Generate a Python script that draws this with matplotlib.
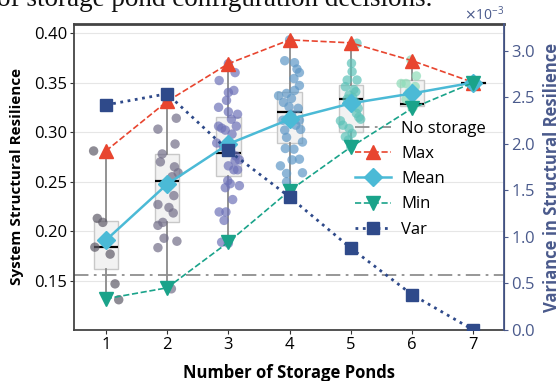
import matplotlib
matplotlib.use("Agg")
import matplotlib.pyplot as plt
from matplotlib.lines import Line2D
from matplotlib.ticker import ScalarFormatter

plt.rcParams['font.family'] = ['Open Sans', 'DejaVu Sans']

# ---------------- data ----------------
ponds = [1, 2, 3, 4, 5, 6, 7]

max_vals = [0.281, 0.331, 0.369, 0.393, 0.390, 0.372, 0.350]
mean_vals = [0.191, 0.2475, 0.288, 0.313, 0.329, 0.339, 0.350]
min_vals = [0.132, 0.143, 0.189, 0.241, 0.285, 0.324, 0.350]
var_vals = [2.42e-3, 2.54e-3, 1.93e-3, 1.43e-3, 0.88e-3, 0.38e-3, 0.0]

q1_vals = [0.162, 0.209, 0.256, 0.289, 0.300, 0.326, 0.350]
med_vals = [0.184, 0.2505, 0.279, 0.320, 0.3333, 0.328, 0.350]
q3_vals = [0.210, 0.278, 0.315, 0.340, 0.3475, 0.353, 0.350]

no_storage = 0.156

# individual scenario results (value, horizontal jitter)
g1_vals = [0.281, 0.213, 0.209, 0.184, 0.177, 0.147, 0.131]
g1_jit = [-0.20, -0.14, -0.05, -0.18, 0.07, 0.15, 0.21]

g2_vals = [0.331, 0.314, 0.303, 0.288, 0.278, 0.270, 0.265, 0.259, 0.255, 0.236,
           0.227, 0.224, 0.2185, 0.209, 0.206, 0.193, 0.190, 0.1835, 0.142]
g2_jit = [0.0, 0.15, -0.15, 0.13, -0.08, -0.11, 0.12, 0.18, 0.08, 0.11,
          -0.15, 0.03, 0.10, -0.07, -0.15, -0.05, 0.16, -0.15, 0.07]

g3_vals = [0.369, 0.360, 0.352, 0.342, 0.340, 0.332, 0.325, 0.3205, 0.318, 0.313,
           0.306, 0.306, 0.304, 0.302, 0.298, 0.289, 0.285, 0.280, 0.276, 0.272,
           0.271, 0.266, 0.262, 0.262, 0.251, 0.248, 0.246, 0.244, 0.232, 0.2195,
           0.2195, 0.211, 0.189, 0.188]
g3_jit = [0.0, 0.11, -0.15, 0.09, 0.0, -0.03, -0.16, 0.0, 0.15, 0.05,
          0.13, -0.16, -0.11, -0.05, 0.06, -0.19, -0.08, 0.04, 0.12, 0.18,
          0.11, 0.0, 0.09, 0.15, -0.01, 0.03, 0.18, -0.05, 0.07, -0.15,
          -0.04, -0.07, -0.11, 0.0]

g4_vals = [0.393, 0.372, 0.370, 0.3636, 0.360, 0.354, 0.347, 0.342, 0.339, 0.3367,
           0.334, 0.330, 0.3256, 0.324, 0.318, 0.312, 0.312, 0.307, 0.302, 0.3027,
           0.2947, 0.290, 0.2835, 0.2828, 0.272, 0.2727, 0.266, 0.259, 0.2583, 0.2498,
           0.241]
g4_jit = [0.0, -0.08, 0.08, 0.12, 0.16, 0.07, 0.16, 0.08, -0.05, -0.18,
          0.03, -0.10, -0.01, 0.14, 0.03, -0.11, 0.16, 0.10, -0.08, 0.18,
          -0.05, 0.21, -0.07, 0.07, 0.04, 0.16, -0.15, 0.21, -0.05, -0.05,
          0.0]

g5_vals = [0.3896, 0.3694, 0.361, 0.3525, 0.3525, 0.3458, 0.343, 0.3407, 0.3374, 0.335,
           0.3333, 0.330, 0.327, 0.324, 0.319, 0.315, 0.313, 0.3114, 0.307, 0.3037,
           0.2987, 0.2953, 0.292, 0.285]
g5_jit = [0.10, 0.01, 0.02, -0.06, 0.10, -0.09, 0.05, 0.08, -0.03, 0.03,
          -0.06, 0.08, 0.0, 0.12, 0.09, 0.13, 0.16, -0.17, -0.13, -0.03,
          0.02, -0.09, -0.04, 0.0]

g6_vals = [0.3727, 0.3566, 0.349, 0.349, 0.346, 0.340, 0.333, 0.330, 0.3256, 0.324]
g6_jit = [-0.02, 0.07, -0.18, -0.10, 0.05, -0.05, -0.10, -0.02, 0.02, 0.0]

g7_vals = [0.350]
g7_jit = [0.0]

groups = [(g1_vals, g1_jit), (g2_vals, g2_jit), (g3_vals, g3_jit), (g4_vals, g4_jit),
          (g5_vals, g5_jit), (g6_vals, g6_jit), (g7_vals, g7_jit)]
group_colors = ['#5f5b68', '#726e88', '#6e72b8', '#5f98c6', '#5cc2b8', '#8edcb8', '#a6e4b0']

# ---------------- figure ----------------
fig = plt.figure(figsize=(5.59, 3.81), dpi=100)
ax = fig.add_axes([0.1324, 0.1339, 0.7692, 0.8031])

# caption fragment cut by the top edge
fig.text(-0.005, 0.983, "of storage pond configuration decisions.",
         family=['Liberation Serif', 'DejaVu Serif'], fontsize=19.5,
         color='#111111', ha='left', va='baseline')

ax.yaxis.grid(True, color='#e6e6e6', lw=0.8, zorder=0)
ax.set_axisbelow(True)

stats = []
for i in range(len(ponds)):
    stats.append(dict(med=med_vals[i], q1=q1_vals[i], q3=q3_vals[i],
                      whislo=min_vals[i], whishi=max_vals[i], fliers=[]))
ax.bxp(stats, positions=ponds, widths=0.4, patch_artist=True, showcaps=False,
       boxprops=dict(facecolor='#f2f2f2', edgecolor='#c8c8c8', lw=1.0),
       whiskerprops=dict(color='#8a8a8a', lw=1.3),
       medianprops=dict(color='black', lw=1.6), zorder=2)

for (vals, jit), p, c in zip(groups, ponds, group_colors):
    xs = [p + j for j in jit]
    ax.scatter(xs, vals, s=46, color=c, alpha=0.7, edgecolors='none', zorder=3)

ax.axhline(no_storage, color='#8f8f8f', lw=1.3, ls=(0, (8, 3, 1.5, 3)), zorder=2.5)

l_max, = ax.plot(ponds, max_vals, ls='--', color='#e8452f', lw=1.2, marker='^',
                 ms=9.5, zorder=4)
l_mean, = ax.plot(ponds, mean_vals, ls='-', color='#4bbad6', lw=1.8, marker='D',
                  ms=9.5, zorder=4)
l_min, = ax.plot(ponds, min_vals, ls='--', color='#1aa38a', lw=1.2, marker='v',
                 ms=9.5, zorder=4)

ax.set_xlim(0.48, 7.5)
ax.set_ylim(0.1005, 0.409)
ax.set_xticks(ponds)
ax.set_yticks([0.15, 0.20, 0.25, 0.30, 0.35, 0.40])
ax.set_yticklabels(['0.15', '0.20', '0.25', '0.30', '0.35', '0.40'])
ax.tick_params(labelsize=12, length=3, width=0.8, color='#333333', pad=2)
ax.set_xlabel('Number of Storage Ponds', fontsize=12, fontweight='bold', labelpad=8)
ax.set_ylabel('System Structural Resilience', fontsize=11, fontweight='bold', labelpad=7)
for s in ['left', 'bottom', 'top']:
    ax.spines[s].set_color('#444444')
    ax.spines[s].set_linewidth(1.3)
ax.spines['top'].set_linewidth(2.0)

# ---------------- variance axis ----------------
slate = '#4a5a8c'
ax2 = ax.twinx()
l_var, = ax2.plot(ponds, var_vals, ls=':', color='#2f4a8a', lw=2.0, marker='s',
                  ms=8, zorder=5)
ax2.set_ylim(0.0, 3.29e-3)
ax2.set_yticks([0.0, 0.5e-3, 1.0e-3, 1.5e-3, 2.0e-3, 2.5e-3, 3.0e-3])
fmt = ScalarFormatter(useMathText=True)
fmt.set_powerlimits((-2, 2))
ax2.yaxis.set_major_formatter(fmt)
ax2.yaxis.get_offset_text().set_color(slate)
ax2.yaxis.get_offset_text().set_fontsize(10)
ax2.tick_params(labelsize=12, length=3, width=0.8, colors=slate, pad=2)
ax2.set_ylabel('Variance in Structural Resilience', fontsize=12, fontweight='bold',
               color=slate, labelpad=5)
ax2.spines['right'].set_color(slate)
ax2.spines['right'].set_linewidth(1.3)
for s in ['left', 'bottom', 'top']:
    ax2.spines[s].set_visible(False)

h_ns = Line2D([], [], color='#8f8f8f', lw=1.3, ls=(0, (8, 3, 1.5, 3)))
leg = ax2.legend([h_ns, l_max, l_mean, l_min, l_var],
                 ['No storage', 'Max', 'Mean', 'Min', 'Var'],
                 loc='upper left', bbox_to_anchor=(0.637, 0.705), frameon=False,
                 fontsize=12, handlelength=2.2, handletextpad=0.6, labelspacing=0.55,
                 borderaxespad=0)

fig.savefig('out.png', dpi=100)
